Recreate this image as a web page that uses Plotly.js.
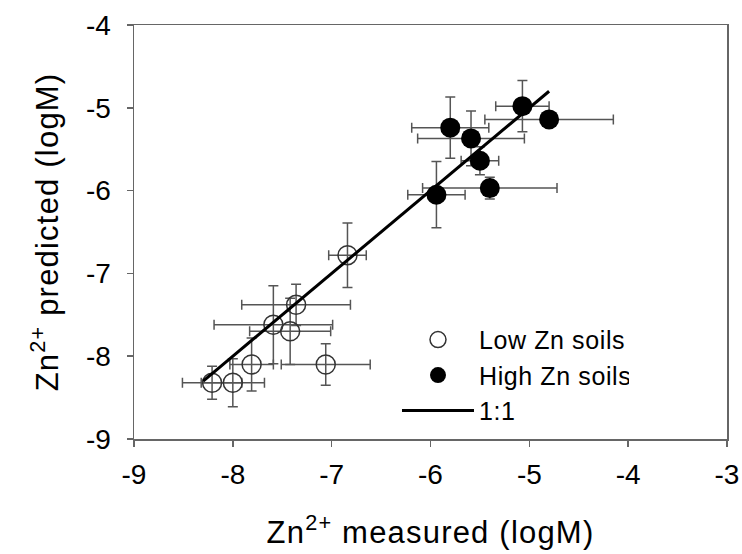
<!DOCTYPE html>
<html>
<head>
<meta charset="utf-8">
<script src="https://cdn.plot.ly/plotly-3.0.1.min.js"></script>
<style>
html,body{margin:0;padding:0;background:#fff;}
#chart{width:742px;height:554px;}
#chart .xtitle, #chart .ytitle{letter-spacing:1.2px;}
#chart .legendtext{letter-spacing:0.6px;}
</style>
</head>
<body>
<div id="chart"></div>
<script>
var lowX = [-6.84, -7.36, -7.59, -7.42, -7.81, -7.06, -8.21, -8.00];
var lowY = [-6.78, -7.38, -7.62, -7.70, -8.10, -8.10, -8.32, -8.32];
var lowXerr = [0.19, 0.55, 0.60, 0.41, 0.22, 0.45, 0.30, 0.32];
var lowYerr = [0.39, 0.25, 0.47, 0.40, 0.32, 0.25, 0.20, 0.29];

var highX = [-5.07, -4.80, -5.80, -5.59, -5.50, -5.40, -5.94];
var highY = [-4.98, -5.14, -5.24, -5.37, -5.64, -5.97, -6.05];
var highXerr = [0.27, 0.65, 0.39, 0.54, 0.19, 0.68, 0.29];
var highYerr = [0.31, 0.04, 0.37, 0.33, 0.17, 0.13, 0.40];

var lineX = [-8.3, -4.8];
var lineY = [-8.3, -4.8];

var xTickVals = [-9, -8, -7, -6, -5, -4, -3];
var xTickText = ['-9', '-8', '-7', '-6', '-5', '-4', '-3'];
var yTickVals = [-9, -8, -7, -6, -5, -4];
var yTickText = ['-9', '-8', '-7', '-6', '-5', '-4'];

var errStyle = {type: 'data', visible: true, color: '#555', thickness: 1.5, width: 5};

var traces = [
  {x: lowX, y: lowY, mode: 'markers', type: 'scatter', name: 'Low Zn soils',
   marker: {symbol: 'circle-open', size: 19, color: '#333', line: {width: 1.5, color: '#333'}},
   error_x: Object.assign({array: lowXerr}, errStyle),
   error_y: Object.assign({array: lowYerr}, errStyle)},
  {x: highX, y: highY, mode: 'markers', type: 'scatter', name: 'High Zn soils',
   marker: {symbol: 'circle', size: 20, color: '#000'},
   error_x: Object.assign({array: highXerr}, errStyle),
   error_y: Object.assign({array: highYerr}, errStyle)},
  {x: lineX, y: lineY, mode: 'lines', type: 'scatter', name: '1:1',
   line: {color: '#000', width: 3}}
];

var axisCommon = {
  showgrid: false, zeroline: false, showline: true, linecolor: '#666', linewidth: 1.5,
  mirror: true, ticks: 'outside', ticklen: 6, tickwidth: 1.5, tickcolor: '#666',
  tickfont: {size: 28, color: '#000'}
};

var layout = {
  width: 742, height: 554,
  margin: {l: 134, r: 15, t: 25, b: 115},
  paper_bgcolor: '#fff', plot_bgcolor: '#fff',
  font: {family: '"Liberation Sans", Arial, sans-serif', color: '#000'},
  showlegend: true,
  legend: {x: 0.4435, y: 0.295, xanchor: 'left', yanchor: 'top', bgcolor: 'rgba(0,0,0,0)',
           font: {size: 25, color: '#000'}, tracegroupgap: 0, itemwidth: 72},
  xaxis: Object.assign({}, axisCommon, {range: [-9, -3], tickvals: xTickVals, ticktext: xTickText,
    ticklabelstandoff: 4,
    title: {text: 'Zn<sup>2+</sup> measured (logM)', font: {size: 31, color: '#000'}, standoff: 32}}),
  yaxis: Object.assign({}, axisCommon, {range: [-9, -4], tickvals: yTickVals, ticktext: yTickText,
    ticklabelstandoff: 10,
    title: {text: 'Zn<sup>2+</sup> predicted (logM)', font: {size: 31, color: '#000'}, standoff: 18}})
};

Plotly.newPlot('chart', traces, layout, {displayModeBar: false, staticPlot: true});
</script>
</body>
</html>
